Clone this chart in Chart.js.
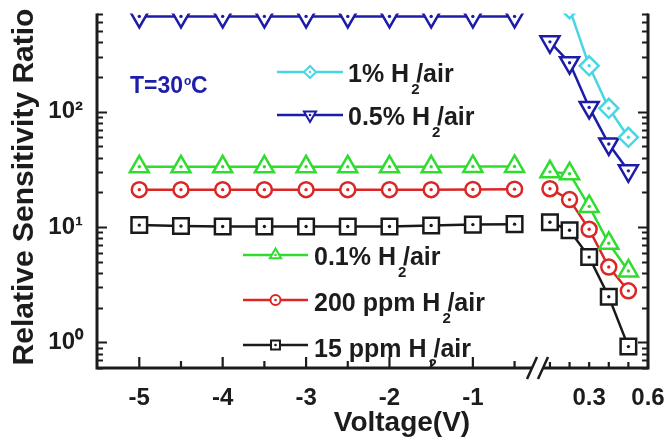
<html>
<head>
<title>Relative Sensitivity Ratio</title>
</head>
<body style="margin:0; background:#fff;">
<div style="width:669px; height:438px;">
    <canvas id="chart"></canvas>
</div>
<script src="https://cdn.jsdelivr.net/npm/chart.js@4.4.0/dist/chart.umd.min.js"></script>
<script>
// voltages on both sides of the axis break
const voltNeg = [-5, -4.5, -4, -3.5, -3, -2.5, -2, -1.5, -1, -0.5]
const voltPos = [0.1, 0.2, 0.3, 0.4, 0.5]

// relative sensitivity ratio
const h2_1pctNeg = [1100, 1100, 1100, 1100, 1100, 1100, 1100, 1100, 1100, 1100] // above the frame
const h2_1pctPos = [1000, 780, 250, 107, 60]
const h2_05pctNeg = [670, 670, 670, 670, 670, 670, 670, 670, 670, 670]
const h2_05pctPos = [403, 266, 109, 52.5, 30.7]
const h2_01pctNeg = [33.3, 33.3, 33.3, 33.3, 33.3, 33.3, 33.3, 33.3, 33.5, 33.5]
const h2_01pctPos = [30.1, 29, 15.1, 7.24, 4.16]
const h2_200ppmNeg = [21.1, 21.1, 21.1, 21.1, 21.1, 21.1, 21.1, 21.1, 21.2, 21.3]
const h2_200ppmPos = [21.5, 17.3, 9.56, 4.5, 2.8]
const h2_15ppmNeg = [10.4, 10.2, 10.1, 10.1, 10.1, 10.1, 10.1, 10.3, 10.5, 10.6]
const h2_15ppmPos = [11, 9.37, 5.49, 2.49, 0.92]

const seriesNames = ['1% H2/air', '0.5% H2/air', '0.1% H2/air', '200 ppm H2/air', '15 ppm H2/air']
const legendPre = ['1% H', '0.5% H', '0.1% H', '200 ppm H', '15 ppm H']

const xTicksNeg = [-5, -4.5, -4, -3.5, -3, -2.5, -2, -1.5, -1, -0.5]
const xTicksPos = [0.1, 0.2, 0.3, 0.4, 0.5, 0.6]
const yMajor = [1, 10, 100]
const yMajorLabels = ['10\u2070', '10\u00b9', '10\u00b2']

const FONT = '"Liberation Sans", Arial, sans-serif'
const INK = '#1c1c1c'

const series = [
    {neg: h2_1pctNeg, pos: h2_1pctPos, color: '#48d6e2', style: 'rectRot', rot: 0, r: 9.5, lr: 6},
    {neg: h2_05pctNeg, pos: h2_05pctPos, color: '#1c1ca8', style: 'triangle', rot: 180, r: 11, lr: 7},
    {neg: h2_01pctNeg, pos: h2_01pctPos, color: '#30dc30', style: 'triangle', rot: 0, r: 11, lr: 6.5},
    {neg: h2_200ppmNeg, pos: h2_200ppmPos, color: '#dc2626', style: 'circle', rot: 0, r: 7.5, lr: 5},
    {neg: h2_15ppmNeg, pos: h2_15ppmPos, color: '#1a1a1a', style: 'rect', rot: 0, r: 11, lr: 6.3}
]

const datasets = []
series.forEach((s, i) => {
    [['xL', voltNeg, s.neg], ['xR', voltPos, s.pos]].forEach(([axis, xs, ys]) => {
        datasets.push({
            label: seriesNames[i],
            xAxisID: axis,
            yAxisID: 'y',
            data: xs.map((x, j) => ({x: x, y: ys[j]})),
            borderColor: s.color,
            backgroundColor: '#fff',
            borderWidth: 2.5,
            pointStyle: s.style,
            pointRotation: s.rot,
            pointRadius: s.r,
            pointBorderWidth: 2.5,
            pointBackgroundColor: '#fff',
            pointBorderColor: s.color,
            tension: 0
        })
    })
})

function fixBox(size) {
    return function (scale) {
        if (scale.isHorizontal()) scale.height = size
        else scale.width = size
        scale.paddingLeft = 0
        scale.paddingRight = 0
        scale.paddingTop = 0
        scale.paddingBottom = 0
    }
}

function marker(ctx, style, rot, r, x, y) {
    ctx.beginPath()
    if (style === 'circle') {
        ctx.arc(x, y, r, 0, Math.PI * 2)
    } else if (style === 'rect') {
        const s = r * Math.SQRT1_2
        ctx.rect(x - s, y - s, 2 * s, 2 * s)
    } else if (style === 'rectRot') {
        ctx.moveTo(x, y - r); ctx.lineTo(x + r, y); ctx.lineTo(x, y + r); ctx.lineTo(x - r, y); ctx.closePath()
    } else {
        let a = rot * Math.PI / 180
        for (let k = 0; k < 3; k++) {
            const px = x + Math.sin(a) * r, py = y - Math.cos(a) * r
            if (k === 0) ctx.moveTo(px, py); else ctx.lineTo(px, py)
            a += Math.PI * 2 / 3
        }
        ctx.closePath()
    }
    ctx.fill()
    ctx.stroke()
}

function textH2(ctx, pre, x, base, size) {
    ctx.font = 'bold ' + size + 'px ' + FONT
    ctx.textAlign = 'left'
    ctx.textBaseline = 'alphabetic'
    ctx.fillText(pre, x, base)
    const w = ctx.measureText(pre).width
    ctx.font = 'bold ' + Math.round(size * 0.6) + 'px ' + FONT
    ctx.fillText('2', x + w + 2, base + 12)
    ctx.font = 'bold ' + size + 'px ' + FONT
    ctx.fillText('/air', x + w + 7, base)
}

const decor = {
    id: 'decor',
    afterDatasetsDraw(chart) {
        const ctx = chart.ctx, a = chart.chartArea
        ctx.save()
        ctx.beginPath()
        ctx.rect(a.left, a.top, a.right - a.left, a.bottom - a.top)
        ctx.clip()
        chart.data.datasets.forEach((ds, i) => {
            ctx.fillStyle = ds.borderColor
            chart.getDatasetMeta(i).data.forEach(p => {
                ctx.beginPath()
                ctx.arc(p.x, p.y, 1.7, 0, Math.PI * 2)
                ctx.fill()
            })
        })
        ctx.restore()
    },
    afterDraw(chart) {
        const ctx = chart.ctx, a = chart.chartArea
        const y = chart.scales.y, xL = chart.scales.xL, xR = chart.scales.xR
        const brk = xL.right
        ctx.save()
        ctx.strokeStyle = INK
        ctx.lineCap = 'butt'

        // ticks, pointing inwards
        ctx.lineWidth = 2.2
        ctx.beginPath()
        y.ticks.forEach(t => {
            const py = Math.round(y.getPixelForValue(t.value)) + 0.5
            const len = yMajor.includes(t.value) ? 10 : 6
            ctx.moveTo(a.left, py); ctx.lineTo(a.left + len, py)
            ctx.moveTo(a.right, py); ctx.lineTo(a.right - len, py)
        })
        xL.ticks.forEach(t => {
            const px = xL.getPixelForValue(t.value)
            const len = Number.isInteger(t.value) ? 11 : 7
            ctx.moveTo(px, a.bottom); ctx.lineTo(px, a.bottom - len)
        })
        xR.ticks.forEach(t => {
            const px = xR.getPixelForValue(t.value)
            ctx.moveTo(px, a.bottom); ctx.lineTo(px, a.bottom - 6)
        })
        ctx.stroke()

        // frame
        ctx.lineWidth = 3
        ctx.beginPath()
        ctx.moveTo(a.left, a.top); ctx.lineTo(a.left, a.bottom + 1.5)
        ctx.moveTo(a.right, a.top); ctx.lineTo(a.right, a.bottom + 1.5)
        ctx.moveTo(a.left - 1.5, a.bottom); ctx.lineTo(brk - 5, a.bottom)
        ctx.moveTo(brk + 6, a.bottom); ctx.lineTo(a.right + 1.5, a.bottom)
        ctx.stroke()

        // axis break
        ctx.lineWidth = 2.5
        ctx.beginPath()
        ;[brk - 5, brk + 6].forEach(cx => {
            ctx.moveTo(cx - 5, a.bottom + 11); ctx.lineTo(cx + 5, a.bottom - 11)
        })
        ctx.stroke()

        // legend, in two groups inside the frame
        const spots = [
            {x1: 277, x2: 343, y: 72, tx: 348, base: 82},
            {x1: 277, x2: 343, y: 115, tx: 348, base: 125},
            {x1: 243, x2: 308, y: 255, tx: 314, base: 265},
            {x1: 243, x2: 308, y: 300, tx: 314, base: 311},
            {x1: 243, x2: 308, y: 345, tx: 314, base: 357}
        ]
        series.forEach((s, i) => {
            const sp = spots[i]
            ctx.strokeStyle = s.color
            ctx.lineWidth = 2.5
            ctx.beginPath()
            ctx.moveTo(sp.x1, sp.y); ctx.lineTo(sp.x2, sp.y)
            ctx.stroke()
            ctx.fillStyle = '#fff'
            ctx.lineWidth = 2
            const mx = (sp.x1 + sp.x2) / 2
            marker(ctx, s.style, s.rot, s.lr, mx, sp.y)
            ctx.fillStyle = s.color
            ctx.beginPath(); ctx.arc(mx, sp.y, 1.3, 0, Math.PI * 2); ctx.fill()
            ctx.fillStyle = INK
            textH2(ctx, legendPre[i], sp.tx, sp.base, 25)
        })

        // temperature note
        ctx.fillStyle = '#1e1eaa'
        ctx.textAlign = 'left'
        ctx.textBaseline = 'alphabetic'
        ctx.font = 'bold 23px ' + FONT
        ctx.fillText('T=30', 130, 93)
        let w = ctx.measureText('T=30').width
        ctx.font = 'bold 12px ' + FONT
        ctx.fillText('o', 130 + w + 1, 85)
        ctx.font = 'bold 23px ' + FONT
        ctx.fillText('C', 130 + w + 8, 93)

        // axis titles
        ctx.fillStyle = INK
        ctx.font = 'bold 28px ' + FONT
        ctx.textAlign = 'center'
        ctx.fillText('Voltage(V)', 402, 431)
        ctx.save()
        ctx.translate(33, 187)
        ctx.rotate(-Math.PI / 2)
        ctx.font = 'bold 30px ' + FONT
        ctx.fillText('Relative Sensitivity Ratio', 0, 0)
        ctx.restore()
        ctx.restore()
    }
}

const tickFont = {family: FONT, size: 24, weight: 'bold'}

new Chart(document.getElementById('chart'), {
    type: 'line',
    data: {datasets: datasets},
    options: {
        responsive: true,
        maintainAspectRatio: false,
        animation: false,
        events: [],
        layout: {padding: {left: 0, right: 21, top: 11, bottom: 0}},
        plugins: {legend: {display: false}, tooltip: {enabled: false}},
        scales: {
            xL: {
                type: 'linear', position: 'bottom', stack: 'volt', stackWeight: 440,
                min: -5.507, max: -0.231,
                afterBuildTicks: s => { s.ticks = xTicksNeg.map(v => ({value: v})) },
                afterFit: fixBox(70),
                grid: {display: false}, border: {display: false},
                ticks: {
                    autoSkip: false, maxRotation: 0, padding: 8, color: INK, font: tickFont,
                    callback: v => Number.isInteger(v) ? String(v) : ''
                }
            },
            xR: {
                type: 'linear', position: 'bottom', stack: 'volt', stackWeight: 111,
                min: 0.034, max: 0.6,
                afterBuildTicks: s => { s.ticks = xTicksPos.map(v => ({value: v})) },
                afterFit: fixBox(70),
                grid: {display: false}, border: {display: false},
                ticks: {
                    autoSkip: false, maxRotation: 0, padding: 8, color: INK, font: tickFont,
                    callback: v => (v === 0.3 || v === 0.6) ? v.toFixed(1) : ''
                }
            },
            y: {
                type: 'logarithmic', position: 'left',
                min: 0.6, max: 710,
                afterBuildTicks: s => {
                    const t = []
                    ;[0.1, 1, 10, 100].forEach(d => {
                        for (let k = 1; k <= 9; k++) {
                            const v = +(d * k).toPrecision(3)
                            if (v >= 0.6 && v <= 710) t.push({value: v})
                        }
                    })
                    s.ticks = t
                },
                afterFit: fixBox(97),
                grid: {display: false}, border: {display: false},
                ticks: {
                    autoSkip: false, padding: 6, color: INK, font: tickFont,
                    callback: v => {
                        const k = yMajor.indexOf(v)
                        return k < 0 ? '' : yMajorLabels[k]
                    }
                }
            }
        }
    },
    plugins: [decor]
})
</script>
</body>
</html>
